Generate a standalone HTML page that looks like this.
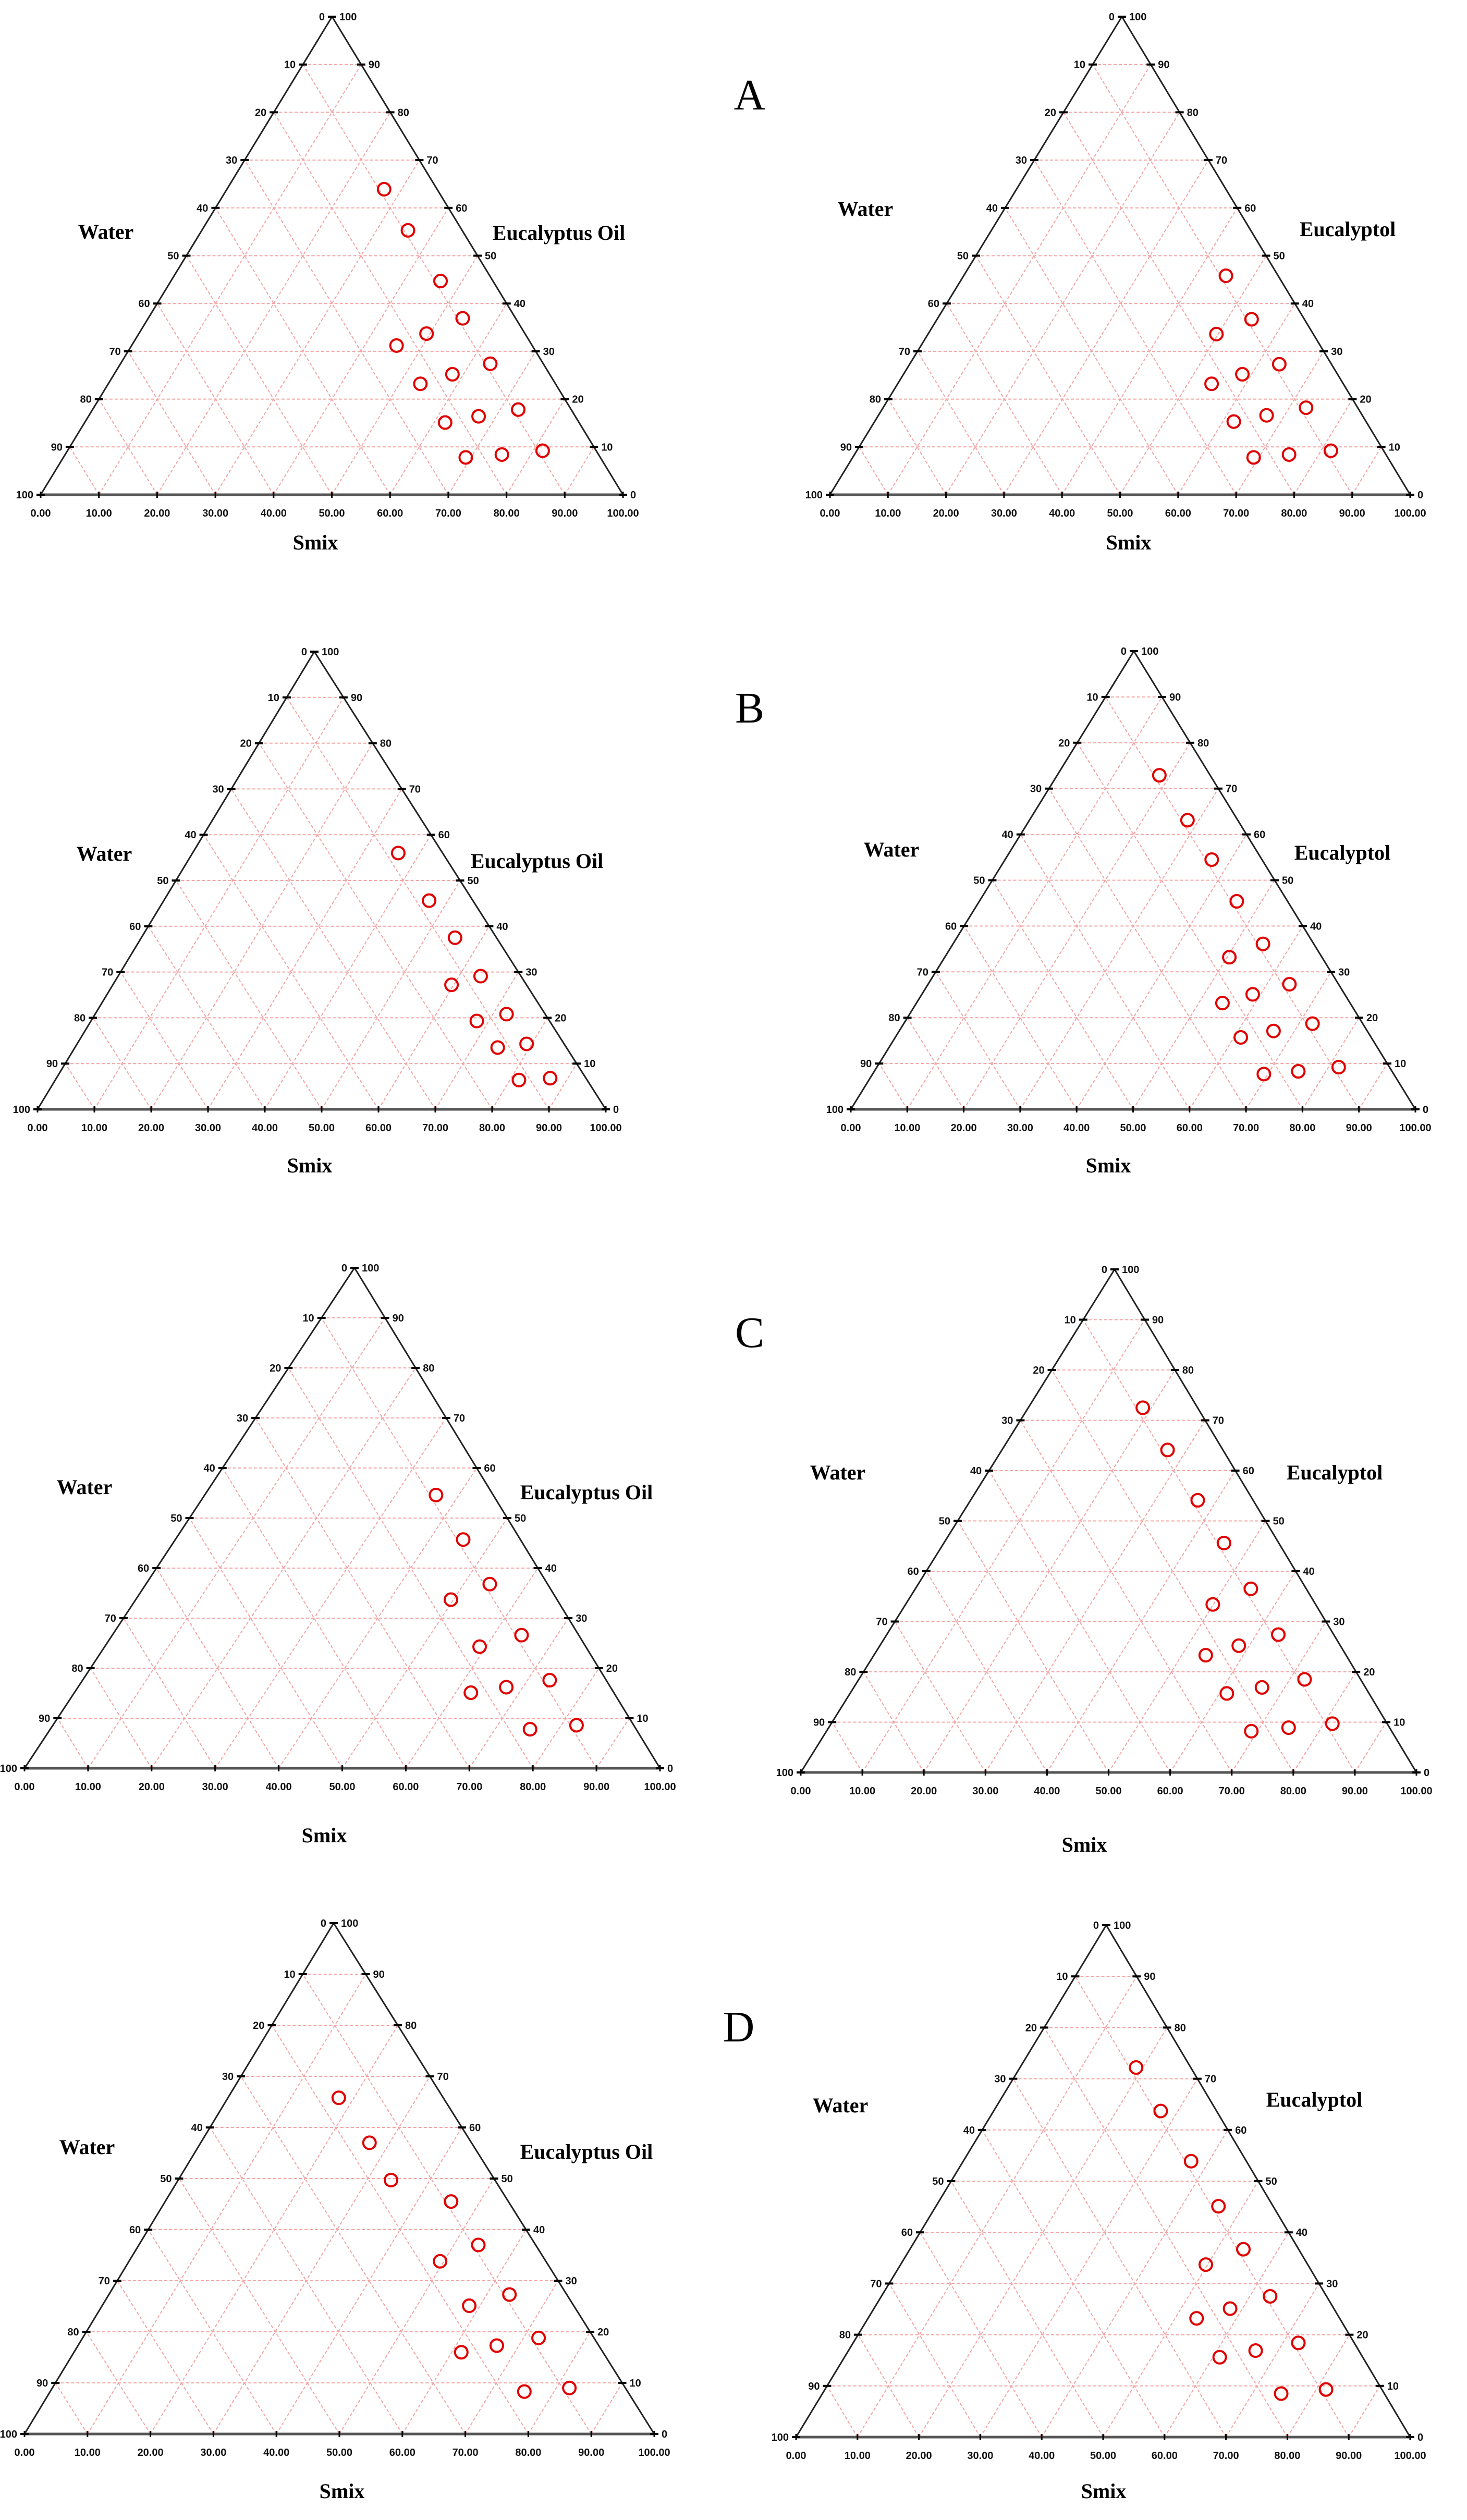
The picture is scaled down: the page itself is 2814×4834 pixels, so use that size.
<!DOCTYPE html>
<html><head><meta charset="utf-8">
<style>
html,body{margin:0;padding:0;background:#fff;}
svg{display:block;}
</style></head>
<body>
<svg id="fig" xmlns="http://www.w3.org/2000/svg" width="2814" height="4834" viewBox="0 0 2814 4834">
<rect x="0" y="0" width="2814" height="4834" fill="#fff"/>
<text x="1438" y="210" font-family="Liberation Serif, serif" font-size="84" text-anchor="middle">A</text>
<text x="1438" y="1386" font-family="Liberation Serif, serif" font-size="84" text-anchor="middle">B</text>
<text x="1438" y="2584" font-family="Liberation Serif, serif" font-size="84" text-anchor="middle">C</text>
<text x="1417" y="3916" font-family="Liberation Serif, serif" font-size="84" text-anchor="middle">D</text>
</svg>
<script>
// ---- data: Smix % and oil % for each diagram (water = 100 - smix - oil) ----
const aLeftSmix = [27.0,35.4,46.3,54.0,49.4,45.5,63.5,58.1,53.6,73.1,67.0,61.9,81.6,75.0,69.1];
const aLeftOil  = [63.9,55.3,44.7,36.9,33.7,31.2,27.4,25.2,23.2,17.8,16.4,15.1,9.2,8.4,7.8];
const aRightSmix = [45.2,54.2,49.7,63.7,58.4,54.1,72.9,66.9,61.9,81.7,74.9,69.1];
const aRightOil  = [45.8,36.7,33.6,27.3,25.2,23.2,18.2,16.6,15.3,9.2,8.4,7.8];
const bLeftSmix = [36.2,46.7,55.2,63.8,59.6,72.4,67.9,79.1,74.4,86.9,81.6];
const bLeftOil  = [56.0,45.6,37.5,29.1,27.2,20.8,19.3,14.3,13.5,6.8,6.4];
const bRightSmix = [18.1,28.0,36.6,45.6,54.9,50.4,64.0,58.6,54.2,72.4,66.3,61.2,81.8,75.1,69.3];
const bRightOil  = [72.9,63.1,54.5,45.4,36.1,33.2,27.3,25.1,23.2,18.7,17.1,15.7,9.2,8.3,7.7];
const cLeftSmix = [36.4,45.3,54.1,49.6,64.4,59.0,73.5,67.4,62.4,82.4,75.5];
const cLeftOil  = [54.6,45.7,36.8,33.7,26.6,24.3,17.6,16.2,15.1,8.6,7.8];
const cRightSmix = [18.6,26.9,36.9,45.5,54.5,49.9,63.6,58.3,53.9,72.4,66.3,61.2,81.4,74.7,69.0];
const cRightOil  = [72.5,64.1,54.1,45.6,36.5,33.4,27.4,25.2,23.3,18.5,16.9,15.7,9.7,8.9,8.2];
const dLeftSmix = [17.6,26.8,33.8,45.4,53.9,49.4,63.6,58.3,72.4,66.5,61.5,82.1,75.3];
const dLeftOil  = [65.8,57.0,49.7,45.5,37.0,33.8,27.3,25.1,18.8,17.3,16.0,9.0,8.3];
const dRightSmix = [18.9,27.2,37.1,46.0,54.3,49.7,63.3,58.0,53.5,72.5,66.3,61.1,81.6,74.7];
const dRightOil  = [72.2,63.7,53.9,45.1,36.7,33.7,27.5,25.1,23.2,18.4,16.9,15.6,9.3,8.5];
const gridTicks = [10,20,30,40,50,60,70,80,90];
const bottomTickLabels = ["0.00","10.00","20.00","30.00","40.00","50.00","60.00","70.00","80.00","90.00","100.00"];

const NS = "http://www.w3.org/2000/svg";
const fig = document.getElementById('fig');
function mk(tag, attrs, parent){
  const e = document.createElementNS(NS, tag);
  for (const k in attrs) e.setAttribute(k, attrs[k]);
  parent.appendChild(e);
  return e;
}

const panels = [
  {id:'a-left', T:[637,32], L:[78,949], R:[1195,949], oil:'Eucalyptus Oil', smix:aLeftSmix, oilv:aLeftOil,
   water:[203,444], oilLab:[1072,446], smixLab:[605,1040]},
  {id:'a-right', T:[2152,32], L:[1592,949], R:[2705,949], oil:'Eucalyptol', smix:aRightSmix, oilv:aRightOil,
   water:[1660,400], oilLab:[2585,439], smixLab:[2165,1040]},
  {id:'b-left', T:[603,1250], L:[72,2128], R:[1162,2128], oil:'Eucalyptus Oil', smix:bLeftSmix, oilv:bLeftOil,
   water:[200,1637], oilLab:[1030,1651], smixLab:[594,2235]},
  {id:'b-right', T:[2175,1249], L:[1632,2128], R:[2715,2128], oil:'Eucalyptol', smix:bRightSmix, oilv:bRightOil,
   water:[1710,1629], oilLab:[2575,1635], smixLab:[2126,2235]},
  {id:'c-left', T:[680,2432], L:[47,3392], R:[1266,3392], oil:'Eucalyptus Oil', smix:cLeftSmix, oilv:cLeftOil,
   water:[162,2852], oilLab:[1125,2862], smixLab:[622,3520]},
  {id:'c-right', T:[2138,2435], L:[1536,3400], R:[2717,3400], oil:'Eucalyptol', smix:cRightSmix, oilv:cRightOil,
   water:[1607,2824], oilLab:[2560,2824], smixLab:[2080,3538]},
  {id:'d-left', T:[640,3689], L:[47,4669], R:[1255,4669], oil:'Eucalyptus Oil', smix:dLeftSmix, oilv:dLeftOil,
   water:[167,4118], oilLab:[1125,4127], smixLab:[656,4778]},
  {id:'d-right', T:[2122,3693], L:[1527,4675], R:[2705,4675], oil:'Eucalyptol', smix:dRightSmix, oilv:dRightOil,
   water:[1612,4038], oilLab:[2521,4027], smixLab:[2117,4778]}
];

function drawPanel(p){
  const g = mk('g', {}, fig);
  
  
  const pos = (s, o) => {
    const w = 100 - s - o;
    return [(w*p.L[0] + s*p.R[0] + o*p.T[0]) / 100, (w*p.L[1] + s*p.R[1] + o*p.T[1]) / 100];
  };
  const grid = mk('g', {stroke:'#f3a4a4', 'stroke-width':'2', 'stroke-dasharray':'6,4', fill:'none'}, g);
  
  
  gridTicks.forEach(k => {
    let a = pos(0, k), b = pos(100 - k, k);
    mk('line', {x1:a[0], y1:a[1], x2:b[0], y2:b[1]}, grid);
    a = pos(k, 0); b = pos(k, 100 - k);
    mk('line', {x1:a[0], y1:a[1], x2:b[0], y2:b[1]}, grid);
    a = pos(100 - k, 0); b = pos(0, 100 - k);
    mk('line', {x1:a[0], y1:a[1], x2:b[0], y2:b[1]}, grid);
  });
  const edges = mk('g', {}, g);
  
  
  mk('line', {x1:p.L[0], y1:p.L[1], x2:p.T[0], y2:p.T[1], stroke:'#222', 'stroke-width':'3'}, edges);
  mk('line', {x1:p.R[0], y1:p.R[1], x2:p.T[0], y2:p.T[1], stroke:'#222', 'stroke-width':'3'}, edges);
  mk('line', {x1:p.L[0], y1:p.L[1], x2:p.R[0], y2:p.R[1], stroke:'#555', 'stroke-width':'5'}, edges);
  const tf = 'Liberation Sans, sans-serif';
  const ticks = mk('g', {'font-family':tf, 'font-size':'20', 'font-weight':'bold', fill:'#111'}, g);
  
  
  for (let k = 0; k <= 100; k += 10) {
    let q = pos(0, 100 - k);
    mk('line', {x1:q[0]-8, y1:q[1], x2:q[0]+8, y2:q[1], stroke:'#000', 'stroke-width':'4'}, ticks);
    let t = mk('text', {x:q[0]-14, y:q[1]+7, 'text-anchor':'end'}, ticks); t.textContent = String(k);
    q = pos(100 - k, k);
    mk('line', {x1:q[0]-8, y1:q[1], x2:q[0]+8, y2:q[1], stroke:'#000', 'stroke-width':'4'}, ticks);
    t = mk('text', {x:q[0]+14, y:q[1]+7, 'text-anchor':'start'}, ticks); t.textContent = String(k);
    q = pos(k, 0);
    mk('line', {x1:q[0], y1:q[1]-6, x2:q[0], y2:q[1]+6, stroke:'#000', 'stroke-width':'3'}, ticks);
    t = mk('text', {x:q[0], y:q[1]+42, 'text-anchor':'middle'}, ticks); t.textContent = bottomTickLabels[k/10];
  }
  const lf = 'Liberation Serif, serif';
  let t = mk('text', {x:p.water[0], y:p.water[1]+14, 'text-anchor':'middle', 'font-family':lf, 'font-size':'40', 'font-weight':'bold'}, g);
  t.textContent = 'Water';
  
  
  t = mk('text', {x:p.oilLab[0], y:p.oilLab[1]+14, 'text-anchor':'middle', 'font-family':lf, 'font-size':'40', 'font-weight':'bold'}, g);
  t.textContent = p.oil;
  
  
  t = mk('text', {x:p.smixLab[0], y:p.smixLab[1]+14, 'text-anchor':'middle', 'font-family':lf, 'font-size':'40', 'font-weight':'bold'}, g);
  t.textContent = 'Smix';
  
  
  const pts = mk('g', {}, g);
  
  
  p.smix.forEach((s, i) => {
    const q = pos(s, p.oilv[i]);
    const c = mk('circle', {cx:q[0], cy:q[1], r:'12', fill:'none', stroke:'#e00000', 'stroke-width':'4'}, pts);
    
    
  });
}
panels.forEach(drawPanel);
</script>
</body></html>
